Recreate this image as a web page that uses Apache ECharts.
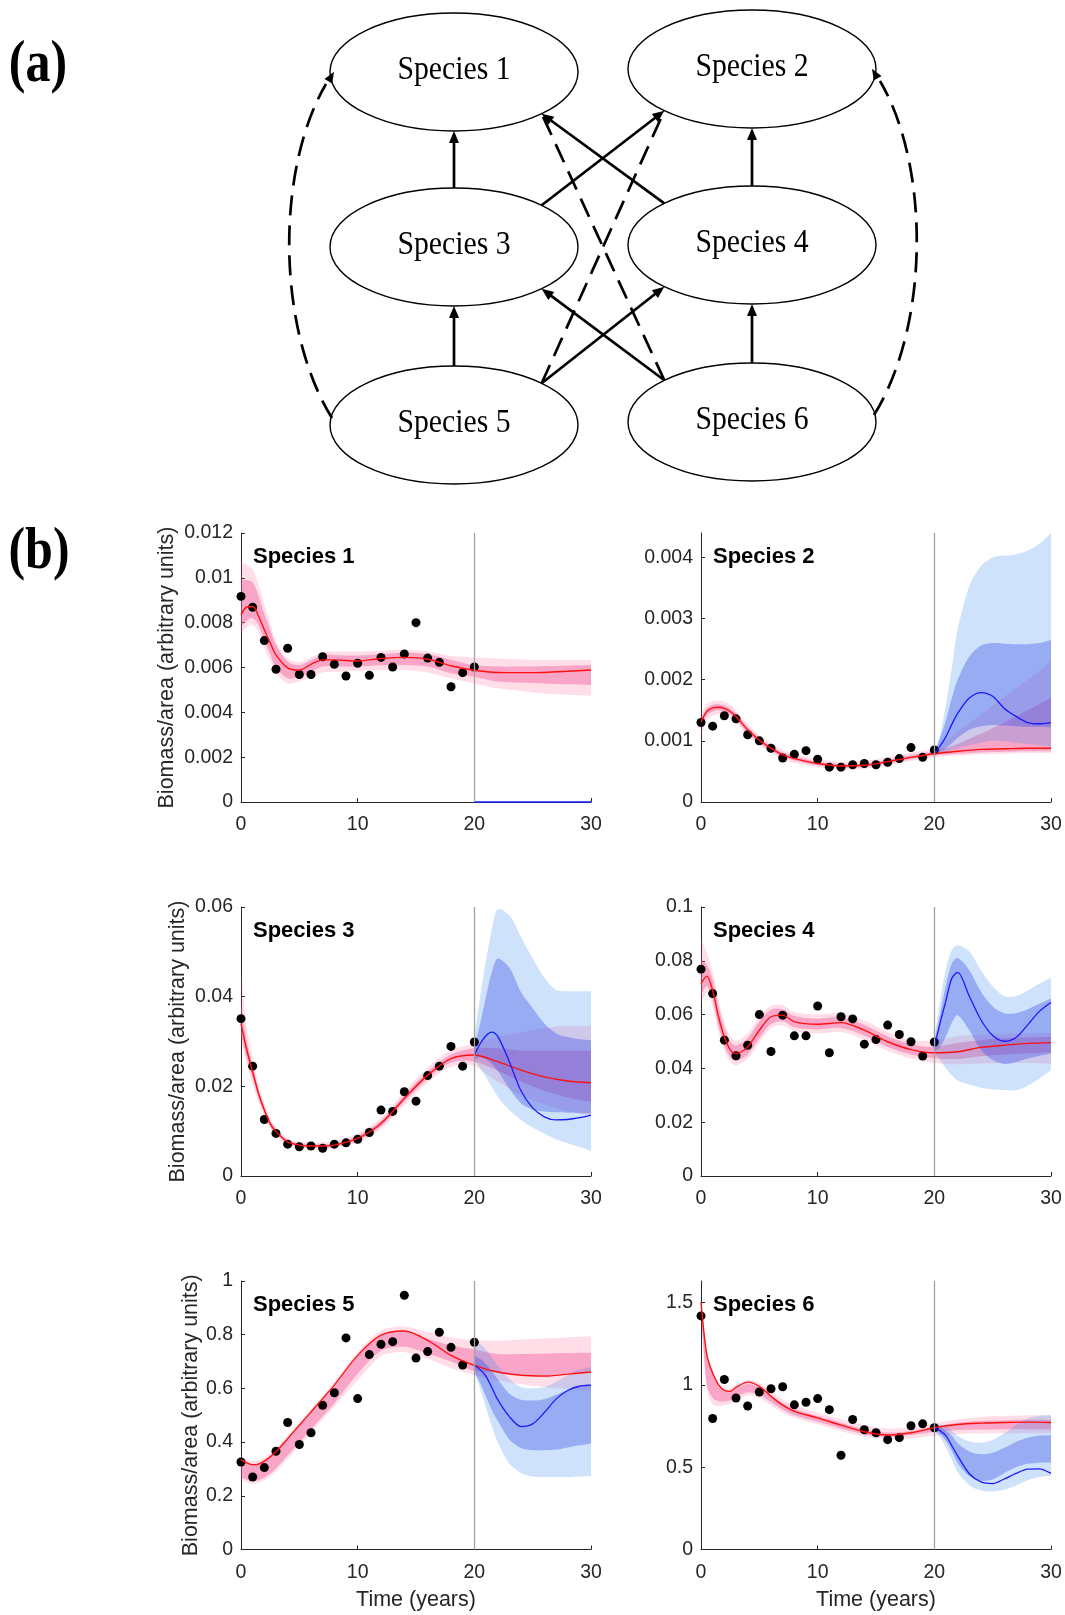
<!DOCTYPE html>
<html><head><meta charset="utf-8">
<script src="https://cdn.jsdelivr.net/npm/echarts@6.0.0/dist/echarts.min.js"></script>
<style>html,body{margin:0;padding:0;background:#fff}#chart{width:1065px;height:1615px}</style>
</head><body><div id="chart"></div>
<script>
// ================= DATA =================
const speciesNames = ['Species 1','Species 2','Species 3','Species 4','Species 5','Species 6'];
const tObs  = [0,1,2,3,4,5,6,7,8,9,10,11,12,13,14,15,16,17,18,19,20];
const tFit  = [0,0.5,1,1.5,2,2.5,3,4,5,6,7,8,10,12,14,16,18,20,22,24,26,28,30];
const tPred = [20,20.5,21,21.5,22,23,24,25,26,27,28,29,30];
const xTicks = [0,10,20,30];
const yTicks1 = [0,0.002,0.004,0.006,0.008,0.01,0.012];
const yTicks2 = [0,0.001,0.002,0.003,0.004];
const yTicks3 = [0,0.02,0.04,0.06];
const yTicks4 = [0,0.02,0.04,0.06,0.08,0.1];
const yTicks5 = [0,0.2,0.4,0.6,0.8,1];
const yTicks6 = [0,0.5,1,1.5];
const yMax = [0.012,0.0044,0.06,0.1,1,1.63];

// Species 1
const obs1 = [.00917,.00869,.0072,.00592,.00686,.00569,.00569,.00648,.00614,.00562,.00619,.00565,.00645,.00602,.0066,.008,.00642,.00623,.00514,.00577,.00602];
const fitMed1 = [.00835,.0087,.00872,.0083,.00768,.0071,.00656,.00598,.00588,.00614,.00634,.00634,.00629,.0064,.00645,.00637,.00608,.00588,.00578,.00577,.00578,.00583,.00589];
const fitHi50_1 = [.0099,.0099,.0098,.0092,.0084,.0077,.0070,.00626,.00611,.00634,.00656,.00656,.00653,.0066,.00666,.0066,.00634,.00611,.00604,.00604,.00606,.00608,.00611];
const fitLo50_1 = [.0078,.0081,.0082,.0079,.0072,.0066,.0060,.00552,.00559,.00581,.00604,.00604,.00604,.0061,.00611,.00604,.00574,.00559,.00537,.00532,.00529,.00525,.00522];
const fitHi95_1 = [.0107,.0106,.0104,.0097,.0088,.0080,.00716,.0064,.00625,.00645,.00668,.00671,.00671,.00675,.00678,.00672,.00651,.00645,.0064,.00636,.00634,.00634,.00634];
const fitLo95_1 = [.00753,.0078,.0079,.0076,.00686,.0063,.00574,.00529,.00537,.00559,.00578,.00581,.00585,.00589,.00589,.00578,.00552,.00529,.00507,.00495,.00484,.00478,.00473];
const predMed1 = [0,0,0,0,0,0,0,0,0,0,0,0,0];

// Species 2
const obs2 = [.0013,.00124,.00141,.00136,.0011,.001,.00088,.00072,.00078,.00084,.0007,.00057,.00057,.00061,.00063,.00061,.00065,.00071,.00089,.00073,.00085];
const fitMed2 = [.00131,.00148,.00154,.00155,.00153,.00148,.0014,.00118,.00101,.00088,.00077,.00071,.00063,.00059,.0006,.00066,.00073,.00079,.00083,.00086,.00087,.00088,.00088];
const fitHi50_2 = [.00137,.00153,.00159,.0016,.00158,.00153,.00145,.00123,.00105,.00092,.00081,.00075,.00066,.00062,.00063,.00069,.00077,.00083,.00095,.00112,.0013,.0015,.0017];
const fitLo50_2 = [.00125,.00142,.00148,.0015,.00148,.00143,.00135,.00113,.00097,.00084,.00074,.00068,.0006,.00056,.00057,.00063,.0007,.00076,.00079,.00081,.00082,.00083,.00083];
const fitHi95_2 = [.00145,.0016,.00165,.00166,.00164,.00159,.0015,.00127,.00109,.00096,.00085,.00079,.0007,.00066,.00067,.00073,.00081,.00088,.00115,.00143,.00172,.002,.0023];
const fitLo95_2 = [.00108,.00132,.00141,.00144,.00142,.00137,.0013,.00109,.00093,.0008,.0007,.00064,.00057,.00053,.00054,.0006,.00067,.00073,.00076,.00078,.00079,.0008,.0008];
const predMed2 = [.00079,.00092,.00107,.00127,.00145,.0017,.00179,.00173,.00153,.0014,.0013,.00128,.0013];
const predHi50_2 = [.0008,.00105,.00134,.0017,.002,.00238,.00256,.0026,.00259,.00258,.00258,.0026,.00265];
const predLo50_2 = [.00078,.00082,.00088,.00096,.00105,.00118,.00124,.00126,.00125,.00124,.00123,.00123,.00122];
const predHi95_2 = [.00082,.0011,.0016,.0022,.00282,.00353,.00386,.004,.00403,.00405,.00411,.00422,.0044];
const predLo95_2 = [.00077,.00079,.00082,.00085,.00088,.00093,.00097,.001,.00099,.00097,.00095,.00093,.00091];

// Species 3
const obs3 = [.0351,.0245,.0126,.0095,.0071,.0065,.0067,.0062,.0071,.0074,.0082,.0097,.0147,.0144,.0188,.0167,.0224,.0245,.0289,.0245,.0299];
const fitMed3 = [.034,.0281,.0232,.0184,.0147,.0117,.0099,.0076,.0069,.0067,.0067,.0069,.0084,.0117,.0173,.0225,.0262,.027,.0255,.0236,.0221,.0212,.0208];
const fitHi50_3 = [.0385,.030,.0245,.0193,.0154,.0123,.0104,.0080,.0073,.0071,.0071,.0073,.0089,.0123,.0180,.0233,.0271,.0285,.0285,.028,.028,.028,.028];
const fitLo50_3 = [.0315,.0263,.0219,.0175,.0140,.0111,.0094,.0072,.0065,.0063,.0063,.0065,.0079,.0111,.0166,.0217,.0253,.0255,.0235,.021,.019,.0175,.0165];
const fitHi95_3 = [.0455,.033,.0262,.0205,.0162,.013,.0109,.0084,.0077,.0075,.0075,.0077,.0094,.013,.0188,.0242,.0281,.0295,.031,.032,.033,.0335,.0335];
const fitLo95_3 = [.030,.025,.0205,.0165,.0133,.0105,.0089,.0068,.0061,.0059,.0059,.0061,.0074,.0104,.0158,.0208,.0243,.0245,.021,.018,.016,.0145,.0135];
const predMed3 = [.027,.0295,.0313,.0321,.0312,.0255,.019,.0152,.0132,.0125,.0126,.013,.0136];
const predHi50_3 = [.029,.034,.040,.0455,.0485,.0465,.041,.0375,.034,.0318,.031,.0305,.0303];
const predLo50_3 = [.026,.0265,.026,.025,.0235,.0195,.0162,.0148,.0144,.0142,.0141,.014,.014];
const predHi95_3 = [.031,.040,.048,.055,.0595,.0582,.0533,.0485,.0442,.0415,.0412,.0412,.0412];
const predLo95_3 = [.0258,.024,.0221,.0199,.0177,.0147,.0125,.0108,.0095,.0082,.0073,.0065,.0056];

// Species 4
const obs4 = [.0769,.0678,.0505,.0447,.0486,.06,.0463,.0598,.0521,.0521,.0632,.0458,.0592,.0584,.049,.0507,.0561,.0526,.0499,.0446,.0498];
const fitMed4 = [.0715,.0743,.069,.0592,.0517,.047,.0455,.048,.0542,.0592,.0598,.0573,.0564,.057,.0542,.0499,.047,.0458,.0462,.0478,.0486,.0493,.0496];
const fitHi50_4 = [.0808,.0785,.073,.063,.0552,.0502,.0485,.0512,.0575,.0618,.062,.0595,.0585,.059,.0562,.0519,.049,.048,.0495,.0505,.0512,.0515,.0518];
const fitLo50_4 = [.0672,.0705,.0655,.0558,.0485,.0442,.0428,.0452,.0512,.0565,.0575,.0553,.0545,.055,.0522,.048,.0452,.0438,.0435,.0445,.0452,.0456,.0458];
const fitHi95_4 = [.0882,.083,.076,.0655,.0572,.052,.0502,.053,.0592,.0632,.0635,.061,.06,.0605,.0578,.0535,.0505,.0505,.052,.0525,.0528,.053,.0532];
const fitLo95_4 = [.0641,.068,.063,.0535,.0465,.0425,.0412,.0435,.0495,.055,.056,.0538,.053,.0535,.0507,.0465,.0437,.042,.0415,.0418,.042,.042,.0418];
const predMed4 = [.048,.057,.0653,.0735,.0757,.0668,.058,.0522,.0501,.0515,.0562,.0612,.0645];
const predHi50_4 = [.05,.06,.071,.079,.081,.0765,.0685,.063,.0605,.0605,.062,.064,.066];
const predLo50_4 = [.0465,.048,.052,.057,.0598,.0542,.0468,.0431,.0416,.0424,.0437,.0446,.0455];
const predHi95_4 = [.051,.065,.077,.084,.0858,.0835,.0765,.0705,.0668,.0668,.069,.0715,.0737];
const predLo95_4 = [.046,.043,.040,.0375,.0355,.034,.0328,.0322,.032,.0319,.0335,.0362,.0393];

// Species 5
const obs5 = [.326,.27,.305,.366,.473,.391,.435,.537,.584,.788,.562,.726,.764,.774,.947,.713,.737,.809,.753,.687,.772];
const fitMed5 = [.335,.323,.316,.318,.329,.345,.364,.413,.463,.512,.562,.612,.723,.798,.814,.779,.723,.686,.661,.649,.646,.653,.661];
const fitHi50_5 = [.338,.325,.318,.32,.33,.346,.365,.412,.46,.508,.556,.605,.72,.795,.81,.785,.76,.745,.728,.728,.73,.732,.733];
const fitLo50_5 = [.27,.26,.255,.258,.268,.283,.302,.35,.398,.447,.496,.545,.655,.74,.755,.73,.70,.665,.66,.652,.65,.655,.66];
const fitHi95_5 = [.35,.335,.33,.332,.342,.358,.378,.425,.474,.523,.572,.625,.735,.815,.83,.81,.79,.78,.778,.782,.786,.79,.794];
const fitLo95_5 = [.262,.25,.245,.248,.258,.272,.29,.338,.386,.435,.484,.532,.63,.72,.735,.71,.675,.65,.63,.615,.605,.598,.593];
const predMed5 = [.686,.67,.645,.603,.558,.495,.458,.468,.51,.56,.592,.608,.612];
const predHi50_5 = [.72,.71,.69,.665,.635,.58,.558,.555,.56,.575,.595,.61,.615];
const predLo50_5 = [.66,.62,.57,.52,.48,.41,.378,.37,.37,.372,.38,.388,.395];
const predHi95_5 = [.775,.765,.745,.715,.685,.635,.605,.6,.605,.625,.65,.67,.68];
const predLo95_5 = [.66,.60,.53,.46,.40,.32,.285,.272,.27,.27,.27,.272,.273];

// Species 6
const obs6 = [1.418,.795,1.032,.92,.871,.956,.976,.988,.878,.894,.916,.849,.572,.789,.727,.709,.667,.679,.751,.763,.739];
const fitMed6 = [1.502,1.181,1.07,1.0,.966,.96,.984,1.016,.99,.93,.876,.839,.799,.755,.715,.695,.709,.739,.759,.767,.771,.773,.771];
const fitHi50_6 = [1.5,1.17,1.06,.99,.96,.955,.975,1.005,.985,.935,.888,.855,.81,.77,.73,.71,.72,.745,.77,.78,.785,.787,.787];
const fitLo50_6 = [1.45,1.0,.92,.9,.9,.905,.925,.955,.94,.895,.85,.815,.775,.735,.70,.685,.695,.715,.725,.728,.73,.73,.73];
const fitHi95_6 = [1.52,1.2,1.09,1.02,.985,.98,1.0,1.03,1.01,.96,.91,.875,.83,.79,.755,.735,.74,.765,.79,.805,.81,.815,.815];
const fitLo95_6 = [1.42,.97,.88,.87,.875,.885,.905,.935,.92,.875,.83,.80,.76,.72,.685,.67,.675,.69,.70,.705,.705,.705,.705];
const predMed6 = [.739,.72,.69,.63,.568,.46,.41,.4,.428,.462,.488,.49,.462];
const predHi50_6 = [.75,.74,.72,.69,.645,.595,.578,.588,.618,.653,.679,.69,.693];
const predLo50_6 = [.73,.70,.66,.60,.525,.445,.418,.425,.465,.50,.52,.527,.528];
const predHi95_6 = [.77,.76,.745,.72,.69,.655,.648,.665,.705,.755,.795,.812,.815];
const predLo95_6 = [.72,.68,.62,.545,.47,.39,.358,.352,.362,.388,.42,.44,.448];

// Network diagram structure (panel a)
const nodeNames = ['Species 1','Species 2','Species 3','Species 4','Species 5','Species 6'];
const solidEdges  = [[3,1],[4,2],[5,3],[6,4],[3,2],[4,1],[5,4],[6,3]];
const dashedEdges = [[6,1],[5,2]];
const curvedEdges = [[5,1,'left'],[6,2,'right']];

// ================= ASSEMBLY =================
const panels = [
  {obs:obs1, fit:[fitMed1,fitLo50_1,fitHi50_1,fitLo95_1,fitHi95_1], pred:[predMed1]},
  {obs:obs2, fit:[fitMed2,fitLo50_2,fitHi50_2,fitLo95_2,fitHi95_2], pred:[predMed2,predLo50_2,predHi50_2,predLo95_2,predHi95_2]},
  {obs:obs3, fit:[fitMed3,fitLo50_3,fitHi50_3,fitLo95_3,fitHi95_3], pred:[predMed3,predLo50_3,predHi50_3,predLo95_3,predHi95_3]},
  {obs:obs4, fit:[fitMed4,fitLo50_4,fitHi50_4,fitLo95_4,fitHi95_4], pred:[predMed4,predLo50_4,predHi50_4,predLo95_4,predHi95_4]},
  {obs:obs5, fit:[fitMed5,fitLo50_5,fitHi50_5,fitLo95_5,fitHi95_5], pred:[predMed5,predLo50_5,predHi50_5,predLo95_5,predHi95_5]},
  {obs:obs6, fit:[fitMed6,fitLo50_6,fitHi50_6,fitLo95_6,fitHi95_6], pred:[predMed6,predLo50_6,predHi50_6,predLo95_6,predHi95_6]}
];
const yTicks = [yTicks1,yTicks2,yTicks3,yTicks4,yTicks5,yTicks6];

const FONT = '"Liberation Sans", Arial, Helvetica, sans-serif';
const SERIF = '"Liberation Serif", "Times New Roman", serif';
const AX = '#262626';
const RED95 = 'rgba(255,90,140,0.20)';
const RED50 = 'rgba(240,80,150,0.40)';
const BLUE95 = 'rgba(60,140,240,0.25)';
const BLUE50 = 'rgba(60,80,230,0.37)';

const gridPos = [[241,533,269],[701,533,269],[241,907,269],[701,907,269],[241,1281,268.5],[701,1281,268.5]];
const yNameGap = [63,0,52,0,39,0];

function pairs(xs, ys){ return xs.map((x,i)=>[x, ys[i]]); }

function bandSeries(idx, ts, lo, hi, color){
  return {
    type:'custom', xAxisIndex:idx, yAxisIndex:idx, silent:true, clip:true,
    data: ts.map((t,i)=>[t, lo[i], hi[i]]),
    encode:{x:0, y:[1,2]},
    renderItem: function(params, api){
      if (params.dataIndexInside !== 0) return null;
      const n = params.dataInsideLength;
      const up = [], dn = [];
      for (let j=0;j<n;j++){
        const x = api.value(0,j);
        up.push(api.coord([x, api.value(2,j)]));
        dn.push(api.coord([x, api.value(1,j)]));
      }
      const pts = [up[0]].concat(up, [up[n-1]], [dn[n-1]], dn.slice().reverse(), [dn[0]]);
      return {type:'polygon', shape:{points:pts, smooth:0.3}, style:{fill:color}};
    }
  };
}

const grids=[], xAxes=[], yAxes=[], titles=[], series=[];
panels.forEach((p, i)=>{
  const g = gridPos[i];
  grids.push({left:g[0], top:g[1], width:350, height:g[2], outerBoundsMode:'none', containLabel:false});
  const bottom = i >= 4, leftCol = i % 2 === 0;
  xAxes.push({
    gridIndex:i, type:'value', min:0, max:30, interval:10,
    axisLine:{show:true, onZero:false, lineStyle:{color:AX, width:1}},
    axisTick:{show:true, inside:true, length:4, lineStyle:{color:AX}, customValues:xTicks},
    axisLabel:{color:AX, fontSize:19.5, margin:13, fontFamily:FONT, customValues:xTicks},
    splitLine:{show:false},
    name: bottom ? 'Time (years)' : '', nameLocation:'middle', nameGap:40, nameMoveOverlap:false,
    nameTextStyle:{fontSize:21.5, color:AX, fontFamily:FONT}
  });
  yAxes.push({
    gridIndex:i, type:'value', min:0, max:yMax[i],
    axisLine:{show:true, onZero:false, lineStyle:{color:AX, width:1}},
    axisTick:{show:true, inside:true, length:4, lineStyle:{color:AX}, customValues:yTicks[i]},
    axisLabel:{color:AX, fontSize:19.5, margin:8, fontFamily:FONT, customValues:yTicks[i],
      formatter: v => String(+(+v).toPrecision(6))},
    splitLine:{show:false},
    name: leftCol ? 'Biomass/area (arbitrary units)' : '', nameLocation:'middle', nameRotate:90,
    nameGap:yNameGap[i], nameMoveOverlap:false,
    nameTextStyle:{fontSize:21.5, color:AX, fontFamily:FONT}
  });
  titles.push({text:speciesNames[i], left: leftCol ? 253 : 713, top: g[1]+13, padding:0,
    textStyle:{fontSize:22, fontWeight:'bold', color:'#000', fontFamily:FONT}});

  // bands
  series.push(bandSeries(i, tFit, p.fit[3], p.fit[4], RED95));
  series.push(bandSeries(i, tFit, p.fit[1], p.fit[2], RED50));
  if (p.pred.length > 1){
    series.push(bandSeries(i, tPred, p.pred[3], p.pred[4], BLUE95));
    series.push(bandSeries(i, tPred, p.pred[1], p.pred[2], BLUE50));
  }
  // red fit line + vertical marker at t=20
  series.push({type:'line', xAxisIndex:i, yAxisIndex:i, data:pairs(tFit, p.fit[0]), smooth:0.3,
    symbol:'none', silent:true, clip:false, lineStyle:{color:'#ff1010', width:1.4},
    markLine:{silent:true, symbol:['none','none'], label:{show:false},
      lineStyle:{color:'#a3a3a3', width:1.3, type:'solid'}, data:[{xAxis:20}]}});
  // blue prediction line
  series.push({type:'line', xAxisIndex:i, yAxisIndex:i, data:pairs(tPred, p.pred[0]), smooth:0.3,
    symbol:'none', silent:true, clip:false, lineStyle:{color:'#1a1aff', width:1.3}});
  // observations
  series.push({type:'scatter', xAxisIndex:i, yAxisIndex:i, data:pairs(tObs, p.obs), symbolSize:9,
    silent:true, clip:false, itemStyle:{color:'#000', opacity:1}});
});

// ================= DIAGRAM (panel a) =================
const nodePos = {1:[454,72],2:[752,69],3:[454,247],4:[752,245],5:[454,425],6:[752,422]};
const RX = 124, RY = 59;
const graphic = [];
const LW = 2.7;
function head(tip, from, len, hw){
  const dx = tip[0]-from[0], dy = tip[1]-from[1], L = Math.hypot(dx,dy);
  const ux = dx/L, uy = dy/L, bx = tip[0]-ux*len, by = tip[1]-uy*len;
  return {type:'polygon', shape:{points:[[tip[0],tip[1]],[bx-uy*hw, by+ux*hw],[bx+uy*hw, by-ux*hw]]}, style:{fill:'#000'}};
}
function attach(a, b){
  const pa = nodePos[a], pb = nodePos[b];
  const dx = pb[0]-pa[0], dy = pb[1]-pa[1];
  if (Math.abs(dx) < 1) return [pa[0], pa[1] + Math.sign(dy)*RY];
  return [pa[0] + Math.sign(dx)*RX*0.707, pa[1] + Math.sign(dy)*RY*0.707];
}
solidEdges.forEach(e=>{
  const s = attach(e[0], e[1]), t = attach(e[1], e[0]);
  const dx=t[0]-s[0], dy=t[1]-s[1], L=Math.hypot(dx,dy);
  const end = [t[0]-dx/L*9, t[1]-dy/L*9];
  graphic.push({type:'line', shape:{x1:s[0],y1:s[1],x2:end[0],y2:end[1]}, style:{stroke:'#000', lineWidth:LW}});
  graphic.push(head(t, s, 12, 5));
});
dashedEdges.forEach(e=>{
  const s = attach(e[0], e[1]), t = attach(e[1], e[0]);
  graphic.push({type:'line', shape:{x1:s[0],y1:s[1],x2:t[0],y2:t[1]}, style:{stroke:'#000', lineWidth:LW, lineDash:[20,10]}});
});
curvedEdges.forEach(e=>{
  const a = nodePos[e[0]], b = nodePos[e[1]];
  const sgn = e[2]==='left' ? -1 : 1;
  const p0 = [a[0]+sgn*(RX-2), a[1]-7];
  const p3 = [b[0]+sgn*(RX+4), b[1]+12];
  const cx = (sgn<0 ? a[0]-RX : a[0]+RX) + sgn*54;
  const c1 = [cx, p0[1]-90], c2 = [cx, p3[1]+85];
  graphic.push({type:'bezierCurve', shape:{x1:p0[0],y1:p0[1],cpx1:c1[0],cpy1:c1[1],cpx2:c2[0],cpy2:c2[1],x2:p3[0],y2:p3[1]},
    style:{stroke:'#000', lineWidth:LW, fill:null, lineDash:[20,10]}});
  const tip = [p3[0]+(p3[0]-c2[0])*0.12, p3[1]+(p3[1]-c2[1])*0.12];
  graphic.push(head([tip[0]+ (sgn<0?2:-2), tip[1]-2], c2, 11, 4.5));
});
Object.keys(nodePos).forEach(k=>{
  const p = nodePos[k];
  graphic.push({type:'ellipse', shape:{cx:p[0], cy:p[1], rx:RX, ry:RY}, style:{fill:'none', stroke:'#000', lineWidth:1.4}});
  graphic.push({type:'text', x:p[0], y:p[1]-2, scaleX:0.93, scaleY:1.08, style:{text:nodeNames[k-1], font:'32px ' + SERIF,
    fill:'#000', align:'center', verticalAlign:'middle', textAlign:'center', textVerticalAlign:'middle'}});
});
graphic.push({type:'text', x:38, y:66, scaleY:1.18, style:{text:'(a)', font:'bold 50px ' + SERIF,
  fill:'#000', align:'center', verticalAlign:'middle', textAlign:'center', textVerticalAlign:'middle'}});
graphic.push({type:'text', x:39, y:553, scaleY:1.18, style:{text:'(b)', font:'bold 50px ' + SERIF,
  fill:'#000', align:'center', verticalAlign:'middle', textAlign:'center', textVerticalAlign:'middle'}});

const chart = echarts.init(document.getElementById('chart'), null, {renderer:'canvas'});
chart.setOption({
  animation:false, backgroundColor:'#fff',
  title:titles, grid:grids, xAxis:xAxes, yAxis:yAxes, graphic:{elements:graphic}, series:series
});
</script></body></html>
